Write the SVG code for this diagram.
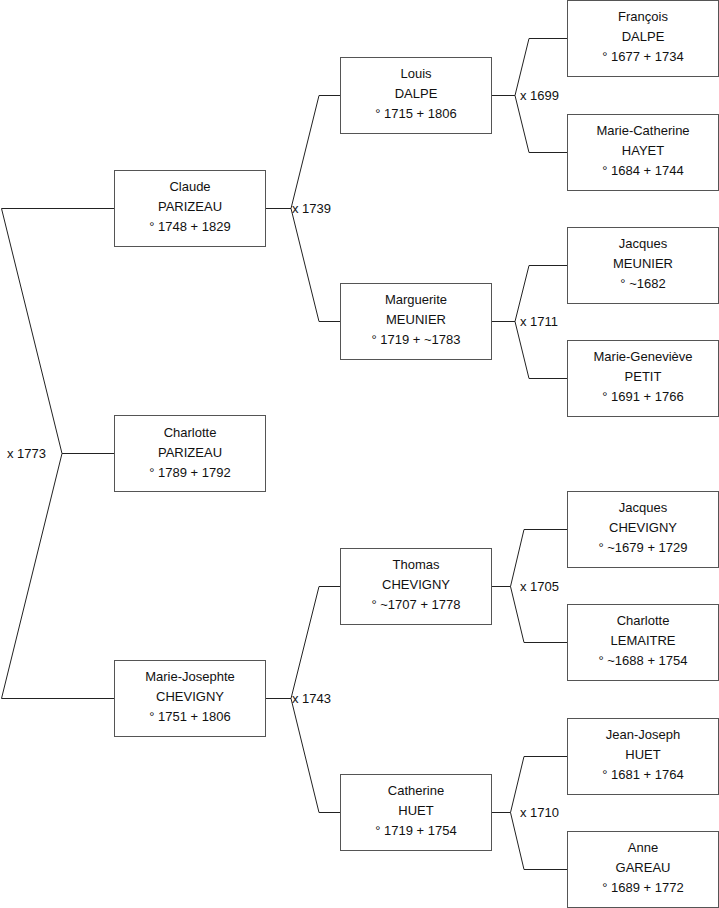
<svg xmlns="http://www.w3.org/2000/svg" width="719" height="908" viewBox="0 0 719 908">
<style>
.box{fill:#fff;stroke:#555;stroke-width:1}
.c{fill:none;stroke:#222;stroke-width:1}
text{font-family:"Liberation Sans",Arial,sans-serif;font-size:13px;fill:#111}
.n{text-anchor:middle}
</style>
<rect width="719" height="908" fill="#fff"/>
<g id="connectors">
<polyline class="c" points="114,208.5 1.5,208.5 62,453.5 1.5,698.5 114,698.5"/>
<line class="c" x1="62" y1="453.5" x2="114" y2="453.5"/>
<line class="c" x1="265" y1="208.5" x2="291" y2="208.5"/>
<polyline class="c" points="340,95.5 319,95.5 291,208.5 319,321.5 340,321.5"/>
<line class="c" x1="265" y1="698.5" x2="291" y2="698.5"/>
<polyline class="c" points="340,586.5 319,586.5 291,698.5 319,812.5 340,812.5"/>
<line class="c" x1="491" y1="95.5" x2="515" y2="95.5"/>
<polyline class="c" points="567,38.5 529,38.5 515,95.5 529,152.5 567,152.5"/>
<line class="c" x1="491" y1="321.5" x2="515" y2="321.5"/>
<polyline class="c" points="567,265.5 529,265.5 515,321.5 529,378.5 567,378.5"/>
<line class="c" x1="491" y1="586.5" x2="510.5" y2="586.5"/>
<polyline class="c" points="567,529.5 524,529.5 510.5,586.5 524,642.5 567,642.5"/>
<line class="c" x1="491" y1="812.5" x2="510.5" y2="812.5"/>
<polyline class="c" points="567,756.5 524,756.5 510.5,812.5 524,869.5 567,869.5"/>
<text x="7" y="458">x 1773</text>
<text x="292" y="212.5">x 1739</text>
<text x="292" y="702.5">x 1743</text>
<text x="520" y="100">x 1699</text>
<text x="520" y="326">x 1711</text>
<text x="520" y="591">x 1705</text>
<text x="520" y="817">x 1710</text>
</g>
<g id="claude"><rect class="box" x="114.5" y="170.5" width="151" height="76"/>
<text class="n" x="190" y="191">Claude</text><text class="n" x="190" y="211">PARIZEAU</text><text class="n" x="190" y="231">° 1748 + 1829</text></g>
<g id="charlotte-p"><rect class="box" x="114.5" y="415.5" width="151" height="76"/>
<text class="n" x="190" y="436.5">Charlotte</text><text class="n" x="190" y="456.5">PARIZEAU</text><text class="n" x="190" y="476.5">° 1789 + 1792</text></g>
<g id="marie-josephte"><rect class="box" x="114.5" y="660.5" width="151" height="76"/>
<text class="n" x="190" y="681">Marie-Josephte</text><text class="n" x="190" y="701">CHEVIGNY</text><text class="n" x="190" y="721">° 1751 + 1806</text></g>
<g id="louis"><rect class="box" x="340.5" y="57.5" width="151" height="76"/>
<text class="n" x="416" y="78">Louis</text><text class="n" x="416" y="98">DALPE</text><text class="n" x="416" y="118">° 1715 + 1806</text></g>
<g id="marguerite"><rect class="box" x="340.5" y="283.5" width="151" height="76"/>
<text class="n" x="416" y="304">Marguerite</text><text class="n" x="416" y="324">MEUNIER</text><text class="n" x="416" y="344">° 1719 + ~1783</text></g>
<g id="thomas"><rect class="box" x="340.5" y="548.5" width="151" height="76"/>
<text class="n" x="416" y="569">Thomas</text><text class="n" x="416" y="589">CHEVIGNY</text><text class="n" x="416" y="609">° ~1707 + 1778</text></g>
<g id="catherine"><rect class="box" x="340.5" y="774.5" width="151" height="76"/>
<text class="n" x="416" y="795">Catherine</text><text class="n" x="416" y="815">HUET</text><text class="n" x="416" y="835">° 1719 + 1754</text></g>
<g id="francois"><rect class="box" x="567.5" y="0.5" width="151" height="76"/>
<text class="n" x="643" y="21">François</text><text class="n" x="643" y="41">DALPE</text><text class="n" x="643" y="61">° 1677 + 1734</text></g>
<g id="marie-catherine"><rect class="box" x="567.5" y="114.5" width="151" height="76"/>
<text class="n" x="643" y="135">Marie-Catherine</text><text class="n" x="643" y="155">HAYET</text><text class="n" x="643" y="175">° 1684 + 1744</text></g>
<g id="jacques-m"><rect class="box" x="567.5" y="227.5" width="151" height="76"/>
<text class="n" x="643" y="248">Jacques</text><text class="n" x="643" y="268">MEUNIER</text><text class="n" x="643" y="288">° ~1682</text></g>
<g id="marie-genevieve"><rect class="box" x="567.5" y="340.5" width="151" height="76"/>
<text class="n" x="643" y="361">Marie-Geneviève</text><text class="n" x="643" y="381">PETIT</text><text class="n" x="643" y="401">° 1691 + 1766</text></g>
<g id="jacques-c"><rect class="box" x="567.5" y="491.5" width="151" height="76"/>
<text class="n" x="643" y="512">Jacques</text><text class="n" x="643" y="532">CHEVIGNY</text><text class="n" x="643" y="552">° ~1679 + 1729</text></g>
<g id="charlotte-l"><rect class="box" x="567.5" y="604.5" width="151" height="76"/>
<text class="n" x="643" y="625">Charlotte</text><text class="n" x="643" y="645">LEMAITRE</text><text class="n" x="643" y="665">° ~1688 + 1754</text></g>
<g id="jean-joseph"><rect class="box" x="567.5" y="718.5" width="151" height="76"/>
<text class="n" x="643" y="739">Jean-Joseph</text><text class="n" x="643" y="759">HUET</text><text class="n" x="643" y="779">° 1681 + 1764</text></g>
<g id="anne"><rect class="box" x="567.5" y="831.5" width="151" height="76"/>
<text class="n" x="643" y="852">Anne</text><text class="n" x="643" y="872">GAREAU</text><text class="n" x="643" y="892">° 1689 + 1772</text></g>
</svg>
